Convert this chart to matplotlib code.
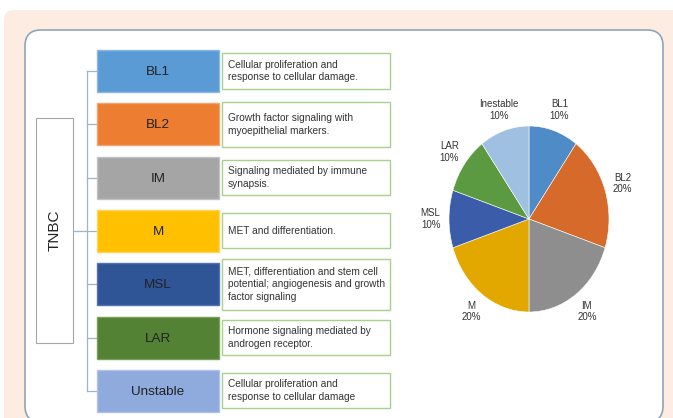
import matplotlib
matplotlib.use("Agg")
import matplotlib.pyplot as plt
from matplotlib.patches import FancyBboxPatch, Rectangle

# ---------------- data ----------------
subtypes = ["BL1", "BL2", "IM", "M", "MSL", "LAR", "Unstable"]
descriptions = [
    "Cellular proliferation and\nresponse to cellular damage.",
    "Growth factor signaling with\nmyoepithelial markers.",
    "Signaling mediated by immune\nsynapsis.",
    "MET and differentiation.",
    "MET, differentiation and stem cell\npotential; angiogenesis and growth\nfactor signaling",
    "Hormone signaling mediated by\nandrogen receptor.",
    "Cellular proliferation and\nresponse to cellular damage",
]
root_label = "TNBC"
pie_labels = ["BL1", "BL2", "IM", "M", "MSL", "LAR", "Inestable"]
pie_values = [10, 20, 20, 20, 10, 10, 10]

# ---------------- style ----------------
box_colors = ["#5b9bd5", "#ed7d31", "#a5a5a5", "#ffc000", "#2f5597", "#548235", "#8faadc"]
box_edges = ["#8db8e2", "#f2a36f", "#c2c2c2", "#ffd45c", "#5373b0", "#78a05a", "#afc3e8"]
pie_colors = ["#4f8bc6", "#d56a2b", "#8e8e8e", "#e2a800", "#3b5ca8", "#5b9a40", "#a0c0e2"]
font = ["Liberation Sans", "DejaVu Sans"]
txt = "#222222"

W, H = 673, 418
fig = plt.figure(figsize=(W / 100, H / 100), dpi=100)
fig.patch.set_facecolor("white")
ax = fig.add_axes([0, 0, 1, 1])
ax.set_xlim(0, W)
ax.set_ylim(H, 0)
ax.axis("off")

# background panels
ax.add_patch(FancyBboxPatch((4, 10), 690, 430, boxstyle="round,pad=0,rounding_size=10",
                            fc="#fcece2", ec="none", zorder=0))
ax.add_patch(FancyBboxPatch((25, 30), 638, 392, boxstyle="round,pad=0,rounding_size=16",
                            fc="white", ec="#8ea5b9", lw=1.2, zorder=1))

# layout
box_x, box_w, box_h = 97, 122, 42
top0, step = 50, 53.3
desc_x, desc_w = 222, 168
desc_h = [36, 45, 35, 35, 51, 35, 35]
line_x = 87
conn_col = "#9fb5c9"

centers = [top0 + i * step + box_h / 2 for i in range(len(subtypes))]

# TNBC root box
ax.add_patch(Rectangle((36, 118), 37, 225, fc="white", ec="#a6a6a6", lw=0.8, zorder=2))
ax.text(55, 230, root_label, rotation=90, ha="center", va="center",
        fontsize=11, family=font, color=txt, zorder=3)

# connectors
ax.plot([73, line_x], [231, 231], color=conn_col, lw=0.9, zorder=2, solid_capstyle="butt")
ax.plot([line_x, line_x], [centers[0], centers[-1]], color=conn_col, lw=0.9, zorder=2)
for c in centers:
    ax.plot([line_x, box_x], [c, c], color=conn_col, lw=0.9, zorder=2)

for i, (name, desc) in enumerate(zip(subtypes, descriptions)):
    c = centers[i]
    ax.add_patch(Rectangle((box_x, c - box_h / 2), box_w, box_h, fc=box_colors[i],
                           ec=box_edges[i], lw=1.0, zorder=3))
    ax.text(box_x + box_w / 2, c + 1, name, ha="center", va="center", fontsize=9.7,
            family=font, color=txt, zorder=4)
    h = desc_h[i]
    ax.add_patch(Rectangle((desc_x, c - h / 2), desc_w, h, fc="white",
                           ec="#a9d18e", lw=1.0, zorder=3))
    ax.text(desc_x + 6, c, desc, ha="left", va="center", fontsize=7.3,
            family=font, color="#333333", linespacing=1.35, zorder=4)

# pie chart (slightly elliptical as in the reference)
cx, cy, rx, ry = 529, 219, 80, 93
pax = fig.add_axes([(cx - rx) / W, (H - cy - ry) / H, 2 * rx / W, 2 * ry / H])
labels = [f"{l}\n{v}%" for l, v in zip(pie_labels, pie_values)]
wedges, texts = pax.pie(pie_values, colors=pie_colors, startangle=90, counterclock=False,
                        labels=labels, labeldistance=1.23,
                        wedgeprops=dict(edgecolor="white", linewidth=0.4),
                        textprops=dict(fontsize=7, family=font, color="#333333"))
for t in texts:
    t.set_ha("center")
    t.set_va("center")
    t.set_multialignment("center")
    t.set_linespacing(1.2)
pax.set_aspect("auto")
pax.set_xlim(-1, 1)
pax.set_ylim(-1, 1)
pax.axis("off")

fig.savefig("out.png", dpi=100, facecolor="white")
